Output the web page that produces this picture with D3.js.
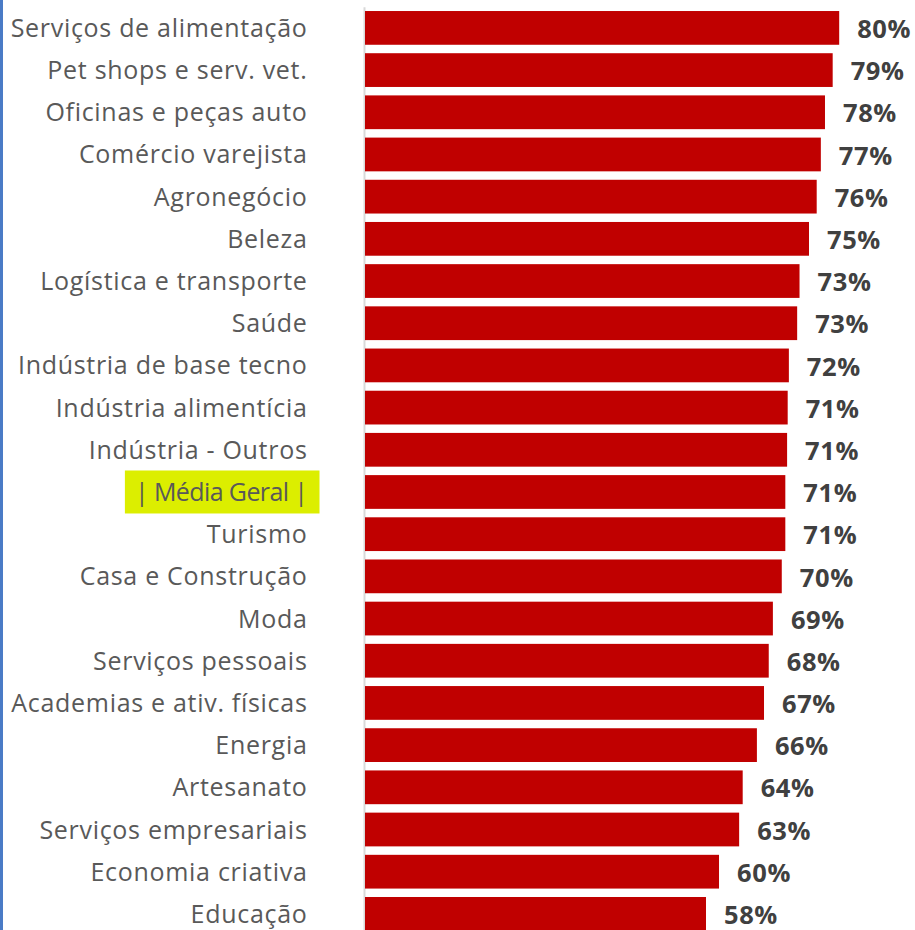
<!DOCTYPE html>
<html>
<head>
<meta charset="utf-8">
<script src="https://cdn.jsdelivr.net/npm/d3@7"></script>
<style>
  body { margin: 0; background: #fff; }
  svg { display: block; }
</style>
</head>
<body>
<div id="chart"></div>
<script>
// Categories, top to bottom
const categories = [
    "Serviços de alimentação", "Pet shops e serv. vet.", "Oficinas e peças auto",
    "Comércio varejista", "Agronegócio", "Beleza", "Logística e transporte", "Saúde",
    "Indústria de base tecno", "Indústria alimentícia", "Indústria - Outros",
    "| Média Geral |", "Turismo", "Casa e Construção", "Moda", "Serviços pessoais",
    "Academias e ativ. físicas", "Energia", "Artesanato", "Serviços empresariais",
    "Economia criativa", "Educação"
];

// Percent values
const values = [
    80.1, 79.0, 77.7, 77.0, 76.3, 75.0, 73.4, 73.0,
    71.6, 71.4, 71.3, 71.0, 71.0, 70.4, 68.9, 68.2,
    67.4, 66.2, 63.8, 63.2, 59.8, 57.6
];

const highlight = "| Média Geral |";

const width = 915;
const height = 930;

const data = categories.map((c, i) => ({ name: c, value: values[i] }));

const svg = d3.select("#chart")
    .append("svg")
    .attr("width", width)
    .attr("height", height);

// Blue left edge of the slide frame
svg.append("rect")
    .attr("x", 0).attr("y", 0)
    .attr("width", 3).attr("height", height)
    .attr("fill", "#4a7bc6");

// Scales
const x = d3.scaleLinear()
    .domain([0, 100])
    .range([365, 957]);

const y = d3.scaleBand()
    .domain(categories)
    .range([6.8, 6.8 + 22 * 42.19])
    .paddingInner(0.2)
    .paddingOuter(0.1);

// Highlight box behind the average row (drawn before the axis text)
const hlGroup = svg.append("g");

// Category axis
const yAxis = svg.append("g")
    .attr("transform", `translate(${x(0) - 1},0)`)
    .call(d3.axisLeft(y).tickSize(0).tickPadding(56.5));

yAxis.select(".domain")
    .attr("stroke", "#d9d9d9")
    .attr("stroke-width", 2);

yAxis.selectAll("text")
    .attr("fill", "#595959")
    .style("font-family", "'Open Sans', 'Noto Sans', sans-serif")
    .style("font-size", "25px")
    .style("letter-spacing", d => d === highlight ? "-0.6px" : "0.7px")
    .attr("dy", "0.36em");

// Size the yellow box from the label it sits behind
yAxis.selectAll(".tick")
    .filter(d => d === highlight)
    .each(function () {
        const bb = this.querySelector("text").getBBox();
        const ty = y(highlight);
        hlGroup.append("rect")
            .attr("x", x(0) - 1 + bb.x - 10)
            .attr("y", ty + y.bandwidth() / 2 - 21.5)
            .attr("width", bb.width + 22)
            .attr("height", 43)
            .attr("fill", "#dcee00");
    });

// Bars
svg.append("g")
    .selectAll("rect")
    .data(data)
    .enter()
    .append("rect")
    .attr("x", x(0))
    .attr("y", d => y(d.name))
    .attr("width", d => x(d.value) - x(0))
    .attr("height", y.bandwidth())
    .attr("fill", "#c00000");

// Value labels
svg.append("g")
    .selectAll("text")
    .data(data)
    .enter()
    .append("text")
    .attr("x", d => x(d.value) + 18)
    .attr("y", d => y(d.name) + y.bandwidth() / 2 + 1)
    .attr("dy", "0.36em")
    .attr("fill", "#404040")
    .style("font-family", "'Open Sans', 'Noto Sans', sans-serif")
    .style("font-size", "25.5px")
    .style("letter-spacing", "0.6px")
    .style("font-weight", "bold")
    .text(d => Math.round(d.value) + "%");
</script>
</body>
</html>
